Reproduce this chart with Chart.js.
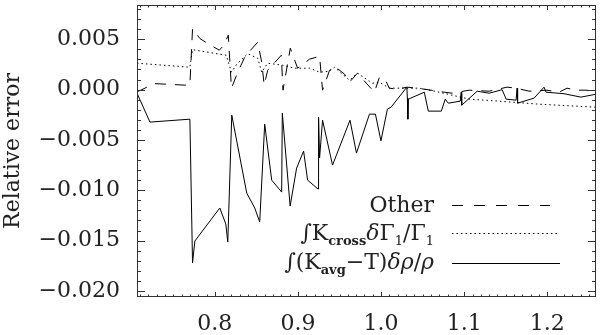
<!DOCTYPE html>
<html>
<head>
<meta charset="utf-8">
<script src="https://cdn.jsdelivr.net/npm/chart.js@4.4.1/dist/chart.umd.min.js"></script>
<style>
  html, body { margin: 0; padding: 0; background: #fff; }
  #wrap { position: relative; width: 600px; height: 335px; }
  .leg { position: absolute; right: 166px; font-family: 'DejaVu Serif', serif; font-size: 22px; color: #222; white-space: nowrap; line-height: 22px; }
  .leg sub { font-size: 13px; font-weight: bold; vertical-align: -5px; }
  .leg sub.n { font-weight: normal; }
  .leg i { font-style: italic; }
</style>
</head>
<body>
<div id="wrap">
  <canvas id="chart" width="600" height="335"></canvas>
  <div class="leg" style="top:194px">Other</div>
  <div class="leg" style="top:222px">&int;K<sub>cross</sub><i>&delta;</i>&Gamma;<sub class="n">1</sub>/&Gamma;<sub class="n">1</sub></div>
  <div class="leg" style="top:251px">&int;(K<sub>avg</sub>&minus;T)<i>&delta;&rho;</i>/<i>&rho;</i></div>
</div>
<script>
// Solid: integral (K_avg - T) drho/rho
const solidX = [0.7064, 0.722, 0.770, 0.7732, 0.776, 0.806, 0.8132, 0.8156, 0.8204, 0.8384, 0.848, 0.854,
  0.860, 0.8684, 0.8804, 0.8812, 0.8906, 0.8984, 0.9068, 0.9116, 0.9242, 0.9248, 0.926, 0.9296, 0.9416,
  0.9626, 0.9704, 0.986, 0.9932, 0.9998, 1.0076, 1.012, 1.0310, 1.0316, 1.0322, 1.0328, 1.052, 1.0568,
  1.0724, 1.0772, 1.0808, 1.0952, 1.0964, 1.097, 1.1156, 1.13, 1.1456, 1.1504, 1.1624, 1.1636, 1.1642,
  1.184, 1.196, 1.1984, 1.22, 1.2404, 1.2584];
const solidY = [-0.00036, -0.00323, -0.00294, -0.01722, -0.01504, -0.01176, -0.01335, -0.01514, -0.00254,
  -0.01028, -0.01176, -0.01315, -0.00343, -0.00899, -0.01018, -0.00234, -0.01157, -0.0078, -0.00611,
  -0.00899, -0.00988, -0.00274, -0.0068, -0.00304, -0.0075, -0.00304, -0.00631, -0.00244, -0.00244,
  -0.00509, -0.00194, -0.00175, 0.00024, -0.00085, -0.00294, -0.00095, -0.00026, -0.00214, -0.00214,
  -0.00095, -0.00135, -0.00115, -0.00026, -0.00155, -0.00016, -0.00036, -0.00001, -0.00095, -0.00105,
  0.00014, -0.00135, -0.00085, 0.00024, -0.00026, -0.00041, -0.00075, -0.00046];

// Dotted: integral K_cross dGamma1/Gamma1
const dottedX = [0.7064, 0.770, 0.7732, 0.8138, 0.820, 0.8264, 0.8396, 0.8516, 0.8564, 0.8636, 0.8816,
  0.896, 0.914, 0.926, 0.938, 0.944, 0.962, 0.9716, 0.986, 0.9896, 0.998, 1.01, 1.046, 1.07, 1.106,
  1.142, 1.19, 1.2584];
const dottedY = [0.00262, 0.00222, 0.00396, 0.00341, 0.00173, 0.00252, 0.00356, 0.00311, 0.00173, 0.00262,
  0.00242, 0.00212, 0.00212, 0.00173, 0.00183, 0.00222, 0.00093, 0.00163, 0.00083, 0.00063, 0.00073,
  0.00014, 0.00014, -0.00026, -0.00095, -0.00115, -0.00145, -0.00175];

// Dashed: other
const dashedX = [0.7064, 0.716, 0.7256, 0.764, 0.770, 0.7732, 0.782, 0.7916, 0.8054, 0.8108, 0.8162, 0.820,
  0.8276, 0.836, 0.8408, 0.8516, 0.8564, 0.8594, 0.8636, 0.880, 0.882, 0.8908, 0.8996, 0.914, 0.926,
  0.9296, 0.938, 0.944, 0.956, 0.962, 0.9716, 0.979, 0.992, 0.998, 1.0052, 1.01, 1.0184, 1.0316, 1.052,
  1.076, 1.0856, 1.106, 1.13, 1.1516, 1.1624, 1.178, 1.1996, 1.214, 1.2236, 1.2344, 1.2464, 1.2584];
const dashedY = [-0.00023, 0.00014, 0.0006, 0.00044, 0.00044, 0.00606, 0.00507, 0.00457, 0.00391, 0.0044,
  0.0054, 0.00014, 0.00173, 0.00321, 0.00371, 0.0047, 0.00272, 0.00044, 0.00192, 0.00341, -0.00006,
  0.00411, 0.00212, 0.00302, 0.00331, -0.00006, 0.00192, 0.00232, 0.00153, 0.00073, 0.00163, 0.00093,
  -0.00026, 0.00123, 0.00093, 0.00014, 0.00004, 0.00024, 0.00004, -0.00026, -0.00036, -0.00006, -0.00016,
  0.00024, 0.00014, -0.00016, -0.00006, -0.00026, 0.00014, -0.00006, -0.00006, -0.00016];

const xRange = [0.7064, 1.2585];
const yRange = [-0.0206, 0.0084];

const FONT = 'DejaVu Serif';
const INK = '#222';

function toPoints(xs, ys) {
    return xs.map((x, i) => ({ x: x, y: ys[i] }));
}

// no automatic label padding, the plot box is placed by hand
function fixBox(s, w, h) {
    if (w !== null) s.width = w;
    if (h !== null) s.height = h;
    s.paddingTop = 0;
    s.paddingBottom = 0;
    s.paddingLeft = 0;
    s.paddingRight = 0;
}

// Frame with inward ticks on all four sides, plus legend line samples
const framePlugin = {
    id: 'frame',
    afterDraw(chart) {
        const ctx = chart.ctx;
        const a = chart.chartArea;
        const xs = chart.scales.x;
        const ys = chart.scales.y;
        ctx.save();
        ctx.strokeStyle = '#333';
        ctx.lineWidth = 1;
        ctx.setLineDash([]);
        ctx.strokeRect(a.left + 0.5, a.top + 0.5, a.right - a.left - 1, a.bottom - a.top - 1);
        ctx.beginPath();
        for (let i = 71; i <= 125; i++) {
            const px = Math.round(xs.getPixelForValue(i / 100)) + 0.5;
            const len = (i % 10 === 0) ? 5 : 2.5;
            ctx.moveTo(px, a.bottom); ctx.lineTo(px, a.bottom - len);
            ctx.moveTo(px, a.top); ctx.lineTo(px, a.top + len);
        }
        for (let j = -20; j <= 8; j++) {
            const py = Math.round(ys.getPixelForValue(j / 1000)) + 0.5;
            const len = (j % 5 === 0) ? 8 : 4;
            ctx.moveTo(a.left, py); ctx.lineTo(a.left + len, py);
            ctx.moveTo(a.right, py); ctx.lineTo(a.right - len, py);
        }
        ctx.stroke();

        // legend samples
        const samples = [
            { y: 205, x2: 550, dash: [11, 11] },
            { y: 233, x2: 560, dash: [1.5, 3] },
            { y: 263, x2: 560, dash: [] }
        ];
        ctx.strokeStyle = '#000';
        samples.forEach(s => {
            ctx.setLineDash(s.dash);
            ctx.beginPath();
            ctx.moveTo(452, s.y + 0.5);
            ctx.lineTo(s.x2, s.y + 0.5);
            ctx.stroke();
        });
        ctx.restore();
    }
};

new Chart(document.getElementById('chart'), {
    type: 'scatter',
    data: {
        datasets: [
            {
                label: 'Other',
                data: toPoints(dashedX, dashedY),
                showLine: true,
                borderColor: '#000',
                borderWidth: 1,
                borderDash: [11, 9],
                pointRadius: 0,
                tension: 0
            },
            {
                label: 'K_cross',
                data: toPoints(dottedX, dottedY),
                showLine: true,
                borderColor: '#000',
                borderWidth: 1,
                borderDash: [1.5, 3],
                pointRadius: 0,
                tension: 0
            },
            {
                label: 'K_avg - T',
                data: toPoints(solidX, solidY),
                showLine: true,
                borderColor: '#000',
                borderWidth: 1,
                pointRadius: 0,
                tension: 0
            }
        ]
    },
    options: {
        responsive: false,
        animation: false,
        devicePixelRatio: 1,
        layout: { padding: { top: 5, right: 4, left: 0, bottom: 0 } },
        plugins: {
            legend: { display: false },
            tooltip: { enabled: false }
        },
        scales: {
            x: {
                type: 'linear',
                min: xRange[0],
                max: xRange[1],
                grid: { display: false },
                border: { display: false },
                ticks: {
                    stepSize: 0.1,
                    includeBounds: false,
                    maxRotation: 0,
                    autoSkip: false,
                    padding: 6,
                    color: INK,
                    font: { family: FONT, size: 22 },
                    callback: v => v.toFixed(1)
                },
                afterFit: s => fixBox(s, null, 38)
            },
            y: {
                type: 'linear',
                min: yRange[0],
                max: yRange[1],
                grid: { display: false },
                border: { display: false },
                ticks: {
                    stepSize: 0.005,
                    includeBounds: false,
                    padding: 9,
                    color: INK,
                    font: { family: FONT, size: 22 },
                    callback: v => Math.abs(v) < 1e-9 ? '0.000' : (v < 0 ? '\u2212' : '') + Math.abs(v).toFixed(3)
                },
                title: {
                    display: true,
                    text: 'Relative error',
                    color: INK,
                    font: { family: FONT, size: 22 },
                    padding: { top: 0, bottom: 0 }
                },
                afterFit: s => fixBox(s, 137, null)
            }
        }
    },
    plugins: [framePlugin]
});
</script>
</body>
</html>
